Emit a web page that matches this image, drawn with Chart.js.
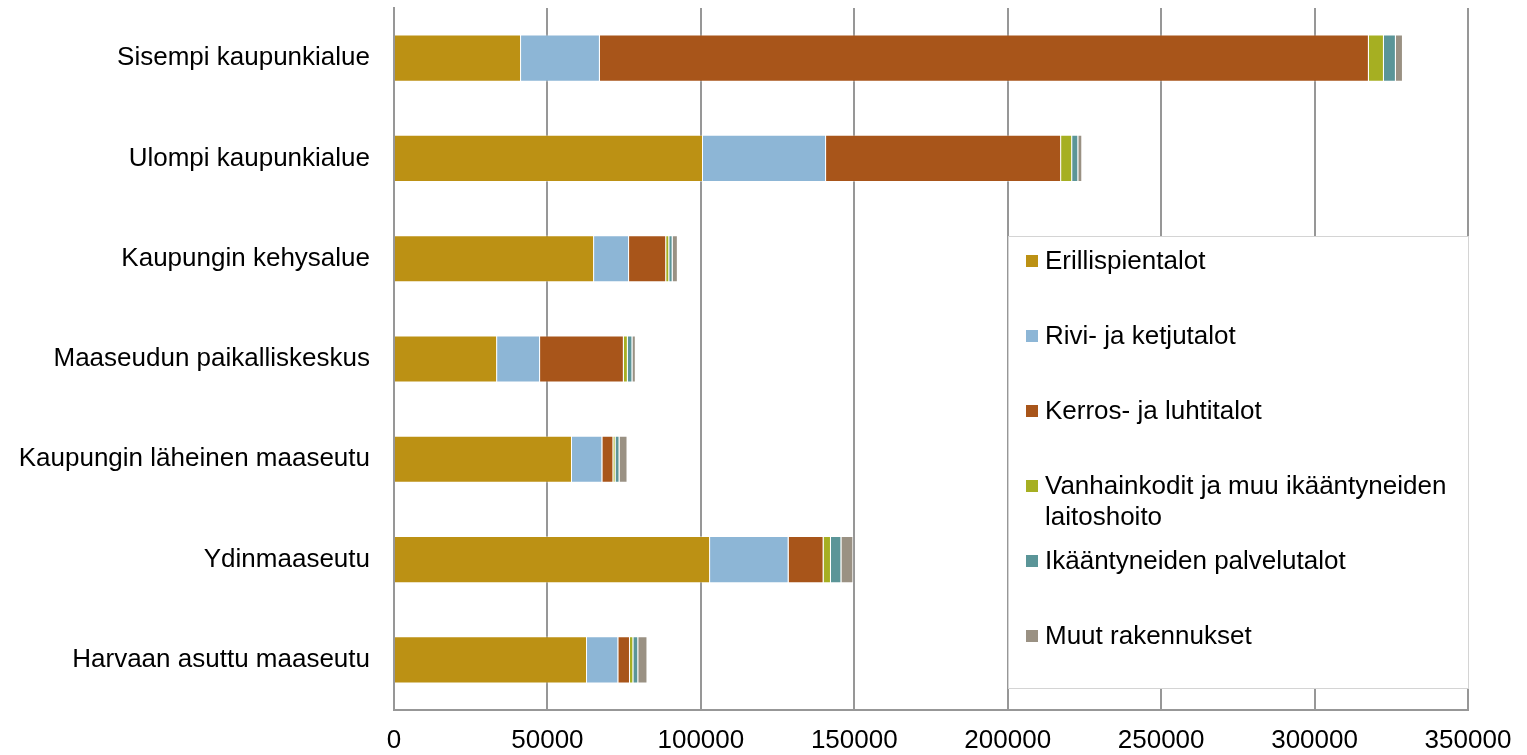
<!DOCTYPE html>
<html>
<head>
<meta charset="utf-8">
<script src="https://cdn.jsdelivr.net/npm/chart.js@4"></script>
<style>
  html, body { margin: 0; padding: 0; background: #fff; }
  #wrap { width: 1527px; height: 755px; }
</style>
</head>
<body>
<div id="wrap"><canvas id="bar-chart"></canvas></div>
<script>
const categories = ['Sisempi kaupunkialue', 'Ulompi kaupunkialue', 'Kaupungin kehysalue',
    'Maaseudun paikalliskeskus', 'Kaupungin läheinen maaseutu', 'Ydinmaaseutu', 'Harvaan asuttu maaseutu'];

const erillispientalot = [41400, 100700, 65200, 33600, 58000, 103000, 62900];
const rivitalot = [25700, 40100, 11400, 14000, 9900, 25600, 10200];
const kerrostalot = [250600, 76600, 12100, 27300, 3600, 11400, 3800];
const vanhainkodit = [4900, 3600, 1000, 1300, 700, 2400, 1100];
const palvelutalot = [3900, 2000, 1100, 1500, 1300, 3400, 1600];
const muut = [2300, 1300, 1700, 1100, 2600, 3900, 3000];

const xTicks = [0, 50000, 100000, 150000, 200000, 250000, 300000, 350000];

const seriesNames = ['Erillispientalot', 'Rivi- ja ketjutalot', 'Kerros- ja luhtitalot',
    'Vanhainkodit ja muu ikääntyneiden laitoshoito', 'Ikääntyneiden palvelutalot', 'Muut rakennukset'];
const seriesColors = ['#BC9114', '#8DB6D6', '#A8551A', '#A6AF22', '#5B9598', '#9A9183'];
const seriesData = [erillispientalot, rivitalot, kerrostalot, vanhainkodit, palvelutalot, muut];

const FONT = 'Liberation Sans, Arial, sans-serif';
const FSIZE = 26;

// legend drawn inside the plot area, like the original
const insideLegend = {
    id: 'insideLegend',
    afterDatasetsDraw(chart) {
        const c = chart.ctx;
        const box = {x: 1008.5, y: 236.5, w: 460, h: 452};
        c.save();
        c.fillStyle = '#fff';
        c.fillRect(box.x, box.y, box.w, box.h);
        c.strokeStyle = '#d4d4d4';
        c.lineWidth = 1;
        c.strokeRect(box.x, box.y, box.w, box.h);
        c.font = FSIZE + 'px ' + FONT;
        c.textBaseline = 'middle';
        chart.data.datasets.forEach((ds, i) => {
            const y = 261 + i * 75;
            c.fillStyle = ds.backgroundColor;
            c.fillRect(1026, y - 6, 12, 12);
            c.fillStyle = '#000';
            // simple word wrap
            const words = ds.label.split(' ');
            let line = '', lines = [];
            words.forEach(w => {
                const test = line ? line + ' ' + w : w;
                if (c.measureText(test).width > 415 && line) { lines.push(line); line = w; }
                else line = test;
            });
            lines.push(line);
            lines.forEach((l, j) => c.fillText(l, 1045, y + 1 + j * 31));
        });
        c.restore();
    }
};

const ctx = document.getElementById('bar-chart').getContext('2d');
const myChart = new Chart(ctx, {
    type: 'bar',
    data: {
        labels: categories,
        datasets: seriesData.map((d, i) => ({
            label: seriesNames[i],
            data: d,
            backgroundColor: seriesColors[i],
            borderColor: 'rgba(255,255,255,0.35)',
            borderWidth: 1,
            categoryPercentage: 1,
            barPercentage: 0.47
        }))
    },
    options: {
        indexAxis: 'y',
        responsive: true,
        maintainAspectRatio: false,
        animation: false,
        layout: {padding: {top: 8, right: 59, left: 0, bottom: 0}},
        plugins: {
            legend: {display: false},
            title: {display: false},
            tooltip: {enabled: false}
        },
        scales: {
            x: {
                stacked: true,
                min: 0,
                max: 350000,
                afterBuildTicks: s => { s.ticks = xTicks.map(v => ({value: v})); },
                afterFit: s => { s.height = 45; },
                grid: {
                    color: '#979797',
                    lineWidth: 2,
                    drawTicks: false
                },
                border: {display: true, color: '#979797', width: 2},
                ticks: {
                    padding: 15,
                    color: '#000',
                    font: {family: FONT, size: FSIZE},
                    maxRotation: 0,
                    callback: v => String(v)
                }
            },
            y: {
                stacked: true,
                afterFit: s => { s.width = 394; s.paddingTop = 0; s.paddingBottom = 0; },
                grid: {display: false, drawTicks: false},
                border: {display: true, color: '#979797', width: 2},
                ticks: {
                    padding: 24,
                    color: '#000',
                    font: {family: FONT, size: FSIZE}
                }
            }
        }
    },
    plugins: [insideLegend]
});
</script>
</body>
</html>
